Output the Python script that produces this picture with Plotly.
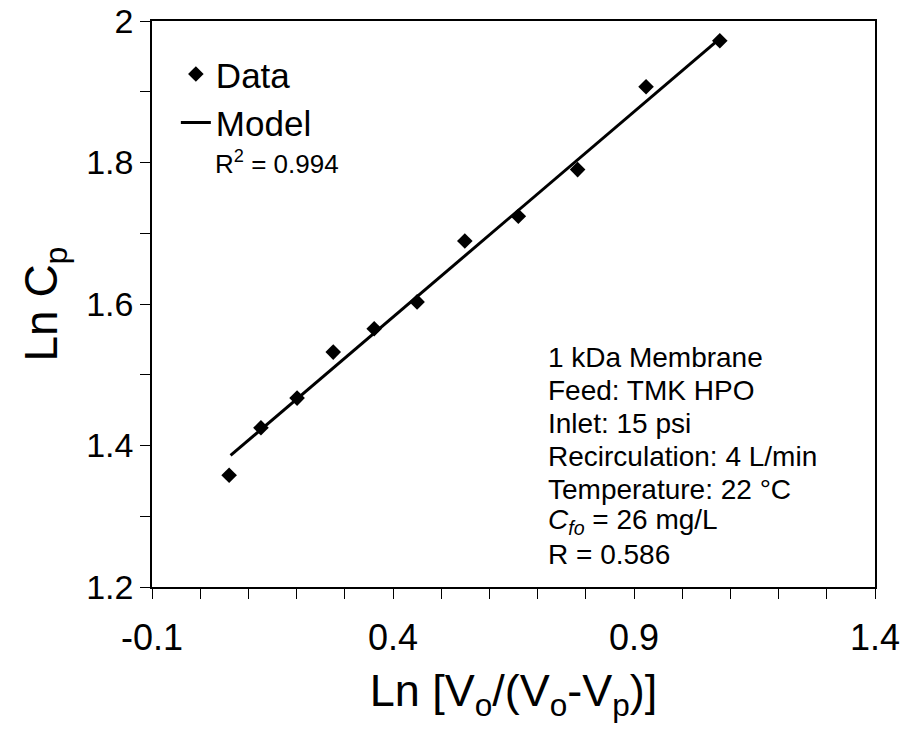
import plotly.graph_objects as go

# Data
x_data = [0.060, 0.126, 0.201, 0.276, 0.361, 0.450, 0.549, 0.660, 0.783, 0.925, 1.078]
y_data = [1.358, 1.425, 1.467, 1.532, 1.565, 1.603, 1.689, 1.724, 1.790, 1.907, 1.972]

# Model line end points
x_model = [0.063, 1.078]
y_model = [1.386, 1.975]

x_ticks = [-0.1, 0.4, 0.9, 1.4]
y_ticks = [1.2, 1.4, 1.6, 1.8, 2.0]
y_tick_text = ["1.2", "1.4", "1.6", "1.8", "2"]

info_lines = [
    "1 kDa Membrane",
    "Feed: TMK HPO",
    "Inlet: 15 psi",
    "Recirculation: 4 L/min",
    "Temperature: 22 °C",
    "<i>C</i><sub><i>fo</i></sub> = 26 mg/L",
    "R = 0.586",
]

FONT = "Liberation Sans, Arial, Helvetica, sans-serif"

fig = go.Figure()
fig.add_trace(go.Scatter(
    x=x_data, y=y_data, mode="markers", name="Data",
    marker=dict(symbol="diamond", size=12, color="black"),
))
fig.add_trace(go.Scatter(
    x=x_model, y=y_model, mode="lines", name="Model",
    line=dict(color="black", width=3),
))

axis_common = dict(
    showgrid=False, zeroline=False, automargin=False,
    showline=True, linecolor="black", linewidth=1.5, mirror=True,
    ticks="outside", ticklen=10, tickwidth=1, tickcolor="black",
    ticklabeloverflow="allow",
)

fig.update_xaxes(
    range=[-0.1, 1.4], tickvals=x_ticks, ticktext=[str(v) for v in x_ticks],
    minor=dict(dtick=0.1, tick0=-0.1, ticks="outside", ticklen=10, tickcolor="black"),
    ticklabelstandoff=8,
    tickfont=dict(family=FONT, size=36, color="black"),
    title=dict(text="Ln [V<sub>o</sub>/(V<sub>o</sub>-V<sub>p</sub>)]",
               font=dict(family=FONT, size=45, color="black"), standoff=18),
    **axis_common,
)
fig.update_yaxes(
    range=[1.2, 2.0], tickvals=y_ticks, ticktext=y_tick_text,
    minor=dict(dtick=0.1, tick0=1.2, ticks="outside", ticklen=10, tickcolor="black"),
    tickfont=dict(family=FONT, size=34, color="black"),
    title=dict(text="Ln C<sub>p</sub>",
               font=dict(family=FONT, size=46, color="black"), standoff=14),
    **axis_common,
)

for i, line in enumerate(info_lines):
    fig.add_annotation(
        xref="paper", yref="paper", x=0.545, y=0.405 - i * 0.058,
        xanchor="left", yanchor="middle", showarrow=False,
        text=line, font=dict(family=FONT, size=28, color="black"),
    )

fig.add_annotation(
    xref="paper", yref="paper", x=0.084, y=0.75,
    xanchor="left", yanchor="middle", showarrow=False,
    text="R<sup>2</sup> = 0.994", font=dict(family=FONT, size=26, color="black"),
)

fig.update_layout(
    width=908, height=732,
    margin=dict(l=152, r=33, t=21, b=145),
    paper_bgcolor="white", plot_bgcolor="white",
    showlegend=True,
    legend=dict(x=0.033, y=0.958, xanchor="left", yanchor="top",
                font=dict(family=FONT, size=35, color="black"),
                bgcolor="rgba(0,0,0,0)", itemwidth=30),
)

fig.write_html("out.html")
